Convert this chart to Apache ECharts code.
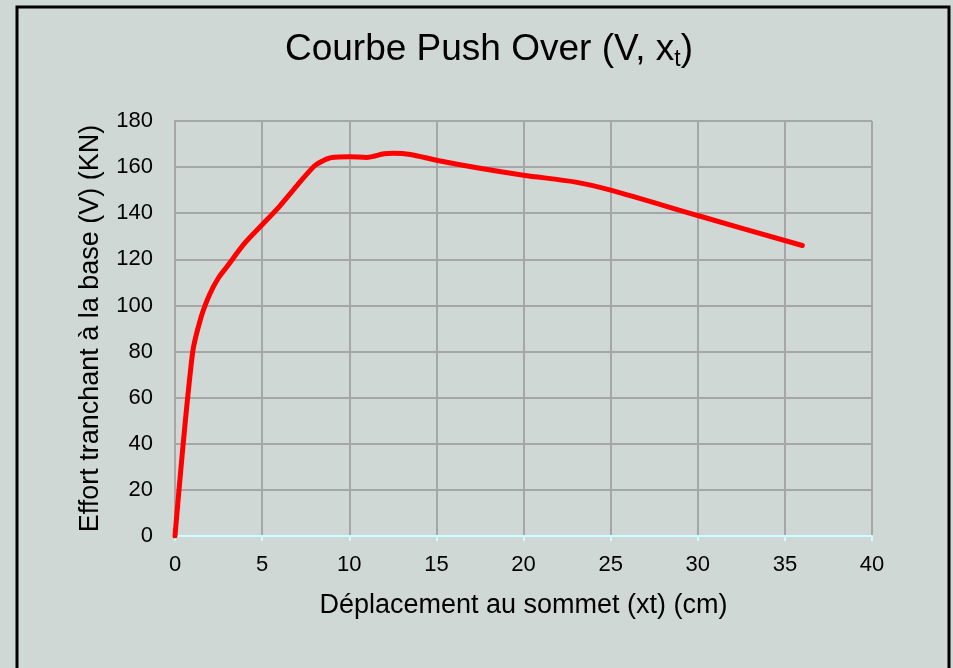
<!DOCTYPE html>
<html>
<head>
	<meta charset="utf-8">
	<title>Courbe Push Over</title>
	<script src="https://cdn.jsdelivr.net/npm/echarts@6/dist/echarts.min.js"></script>
	<style>
		html, body { margin: 0; padding: 0; background: #cfd8d5; }
		#main { width: 953px; height: 668px; }
	</style>
</head>
<body>
	<div id="main"></div>
	<script type="text/javascript">
		// déplacement (cm) et effort tranchant (KN)
		var deplacement = [0, 1, 1.5, 2, 2.5, 3, 4, 5, 6, 7, 8, 8.5, 9, 10, 11, 12, 12.5, 13.5, 15, 17.5, 20, 23, 25, 30, 36];
		var effort = [0, 79, 95, 105, 112, 117, 127, 135, 143, 152, 160.5, 162.8, 164.2, 164.5, 164.2, 165.8, 166, 165.5, 163, 159.5, 156.5, 153.5, 150, 139, 126];

		var myChart = echarts.init(document.getElementById('main'));
		var font = 'Liberation Sans, Arial, sans-serif';

		var points = [];
		for (var i = 0; i < deplacement.length; i++) {
			points.push([deplacement[i], effort[i]]);
		}

		var option = {
			backgroundColor: '#cfd8d5',
			animation: false,
			title: {
				text: '{a|Courbe Push Over (V, x}{b|t}{a|)}',
				left: 484,
				top: 23,
				textAlign: 'center',
				textStyle: {
					fontWeight: 'normal',
					rich: {
						a: { fontFamily: font, fontSize: 37, fontWeight: 'normal', color: '#000' },
						b: { fontFamily: font, fontSize: 23, fontWeight: 'normal', color: '#000', padding: [20, 0, 0, 0] }
					}
				}
			},
			graphic: [{
				type: 'rect',
				shape: { x: 17, y: 7, width: 932, height: 700 },
				style: { fill: null, stroke: '#000', lineWidth: 3 }
			}],
			grid: { left: 175, right: 81, top: 121, bottom: 132 },
			xAxis: {
				type: 'value',
				min: 0, max: 40, interval: 5,
				name: 'Déplacement au sommet (xt) (cm)',
				nameLocation: 'middle',
				nameGap: 56,
				nameTextStyle: { fontFamily: font, fontSize: 27, color: '#000' },
				axisLine: { show: true, lineStyle: { color: '#ccffff', width: 2 } },
				axisTick: { show: true, length: 5, lineStyle: { color: '#ccffff', width: 2 } },
				axisLabel: { margin: 18, fontFamily: font, fontSize: 22, color: '#000' },
				splitLine: { show: true, lineStyle: { color: '#a6a6a6', width: 2 } }
			},
			yAxis: {
				type: 'value',
				min: 0, max: 180, interval: 20,
				name: 'Effort tranchant à la base (V) (KN)',
				nameLocation: 'middle',
				nameGap: 71,
				nameTextStyle: { fontFamily: font, fontSize: 27, color: '#000' },
				axisLine: { show: true, lineStyle: { color: '#a6a6a6', width: 2 } },
				axisTick: { show: false },
				axisLabel: { margin: 22, fontFamily: font, fontSize: 22, color: '#000' },
				splitLine: { show: true, lineStyle: { color: '#a6a6a6', width: 2 } }
			},
			series: [{
				type: 'line',
				data: points,
				smooth: 0.3,
				showSymbol: false,
				lineStyle: { color: '#ff0000', width: 5, cap: 'round' }
			}]
		};

		myChart.setOption(option);
	</script>
</body>
</html>
